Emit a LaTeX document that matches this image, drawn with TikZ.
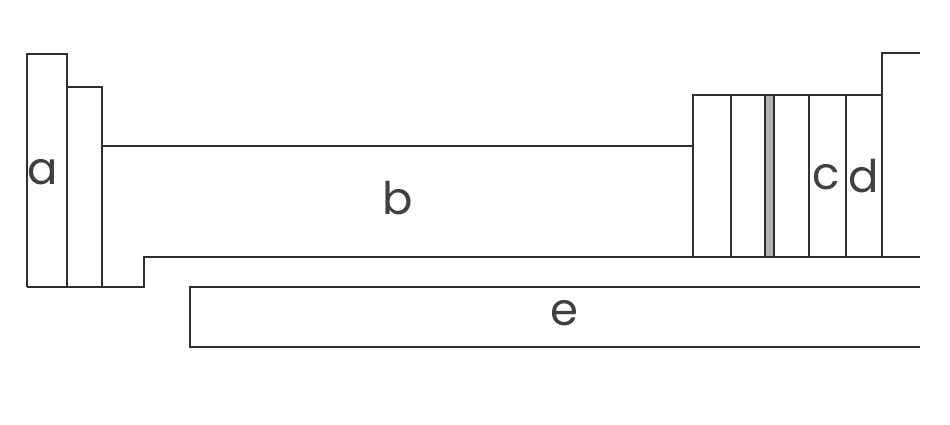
\documentclass[tikz,border=0pt]{standalone}
\usepackage{fontspec}
\setmainfont{Poppins}
\begin{document}
\begin{tikzpicture}[x=1pt,y=-1pt,
  ln/.style={draw=black!82,line width=2.7pt,line join=miter},
  lbl/.style={inner sep=0pt,text=black!75,font=\fontsize{45}{45}\selectfont}]
\useasboundingbox (0,0) rectangle (950,424);
\fill[white] (0,0) rectangle (950,424);
% a and second block
\draw[ln] (27,287) -- (27,54) -- (67,54) -- (67,287);
\draw[ln] (67,87) -- (102,87) -- (102,287);
% b outline
\draw[ln] (102,146) -- (693,146);
\draw[ln] (27,287) -- (144,287) -- (144,257) -- (920,257);
% c / d stack
\draw[ln] (693,257) -- (693,95) -- (882,95);
\draw[ln] (731,95) -- (731,257);
\filldraw[ln,fill=black!30,line width=2.2pt] (765,95) rectangle (774,257);
\draw[ln] (809,95) -- (809,257);
\draw[ln] (846,95) -- (846,257);
\draw[ln] (882,257) -- (882,53) -- (920,53);
% e
\draw[ln] (920,287) -- (190,287) -- (190,347) -- (920,347);
% labels
\node[lbl] (la) at (43,172) {a};
\node[lbl] (lb) at (398,198) {b};
\node[lbl] (lc) at (826,177) {c};
\node[lbl] (ld) at (864,176) {d};
\node[lbl] (le) at (564,313) {e};
\end{tikzpicture}
\end{document}
